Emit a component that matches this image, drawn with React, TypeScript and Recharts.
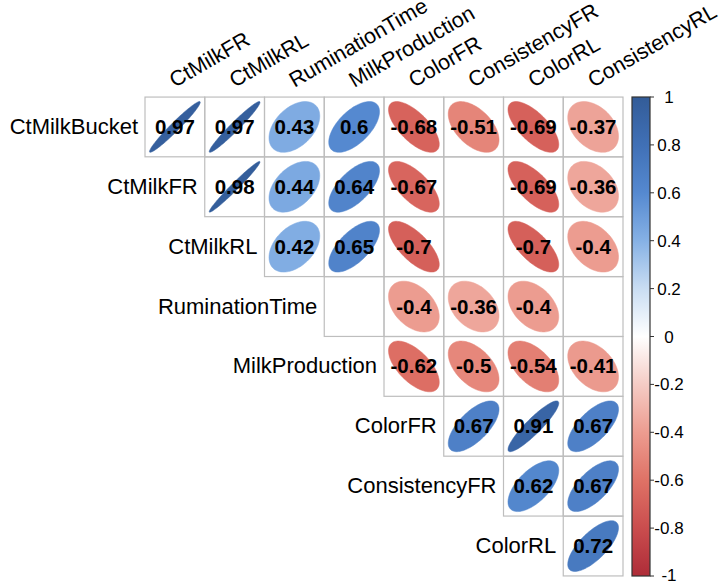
import React from 'react';
import { ScatterChart, Scatter, XAxis, YAxis, Customized } from 'recharts';

const rowLabels = ['CtMilkBucket', 'CtMilkFR', 'CtMilkRL', 'RuminationTime', 'MilkProduction', 'ColorFR', 'ConsistencyFR', 'ColorRL'];
const colLabels = ['CtMilkFR', 'CtMilkRL', 'RuminationTime', 'MilkProduction', 'ColorFR', 'ConsistencyFR', 'ColorRL', 'ConsistencyRL'];

// upper triangle, one array per row (null = not shown)
const rowCtMilkBucket = [0.97, 0.97, 0.43, 0.6, -0.68, -0.51, -0.69, -0.37];
const rowCtMilkFR = [0.98, 0.44, 0.64, -0.67, null, -0.69, -0.36];
const rowCtMilkRL = [0.42, 0.65, -0.7, null, -0.7, -0.4];
const rowRuminationTime = [null, -0.4, -0.36, -0.4, null];
const rowMilkProduction = [-0.62, -0.5, -0.54, -0.41];
const rowColorFR = [0.67, 0.91, 0.67];
const rowConsistencyFR = [0.62, 0.67];
const rowColorRL = [0.72];

const rows = [rowCtMilkBucket, rowCtMilkFR, rowCtMilkRL, rowRuminationTime, rowMilkProduction, rowColorFR, rowConsistencyFR, rowColorRL];

const colorbarTicks = [1, 0.8, 0.6, 0.4, 0.2, 0, -0.2, -0.4, -0.6, -0.8, -1];

const PALETTE: [number, string][] = [
  [-1, '#AE2C38'], [-0.8, '#CA4D4E'], [-0.6, '#DF7266'], [-0.4, '#EC9C90'], [-0.2, '#F5CCC5'],
  [0, '#FFFFFF'], [0.2, '#C9DDF3'], [0.4, '#86B1E5'], [0.6, '#5589D0'], [0.8, '#4070B6'], [1, '#335C98'],
];

const W = 723;
const H = 584;
const MARGIN = { top: 97, right: 100, bottom: 8, left: 145 };
const N = 8;
const CELL = (W - MARGIN.left - MARGIN.right) / N;
const FONT = '"Liberation Sans", Arial, sans-serif';

const hex = (c: string) => [1, 3, 5].map((i) => parseInt(c.slice(i, i + 2), 16));
const colorFor = (v: number) => {
  for (let i = 0; i < PALETTE.length - 1; i++) {
    const [a, ca] = PALETTE[i];
    const [b, cb] = PALETTE[i + 1];
    if (v >= a && v <= b) {
      const t = (v - a) / (b - a);
      const A = hex(ca), B = hex(cb);
      const m = A.map((x, k) => Math.round(x + (B[k] - x) * t));
      return `rgb(${m[0]},${m[1]},${m[2]})`;
    }
  }
  return '#fff';
};

// corrplot ellipse outline
const ellipsePath = (r: number, cx: number, cy: number) => {
  const a = Math.acos(r) / 2;
  const pts: string[] = [];
  for (let i = 0; i < 99; i++) {
    const k = (2 * Math.PI * i) / 98;
    const x = (Math.cos(k + a) / 2) * 0.85 * CELL;
    const y = (Math.cos(k - a) / 2) * 0.85 * CELL;
    pts.push(`${(cx + x).toFixed(2)},${(cy - y).toFixed(2)}`);
  }
  return 'M' + pts.join('L') + 'Z';
};

const cells: { x: number; y: number; r: number | null }[] = [];
rows.forEach((vals, i) => {
  vals.forEach((r, k) => {
    cells.push({ x: i + k + 0.5, y: i + 0.5, r });
  });
});
const filled = cells.filter((c) => c.r !== null);
const rowLabelPts = rowLabels.map((name, i) => ({ x: i, y: i + 0.5, name }));
const colLabelPts = colLabels.map((name, j) => ({ x: j + 0.5, y: 0, name }));

const GridCell = (p: any) => (
  <rect x={p.cx - CELL / 2} y={p.cy - CELL / 2} width={CELL} height={CELL} fill="none" stroke="#BEBEBE" strokeWidth={1.2} />
);

const EllipseShape = (p: any) => {
  const r = p.payload.r;
  return <path d={ellipsePath(r, p.cx, p.cy)} fill={colorFor(r)} stroke={colorFor(r)} strokeWidth={0.5} />;
};

const NumberShape = (p: any) => (
  <text x={p.cx} y={p.cy + 7} textAnchor="middle" fontFamily={FONT} fontWeight="bold" fontSize={20.5} fill="#000">
    {String(p.payload.r)}
  </text>
);

const RowLabel = (p: any) => (
  <text x={p.cx - 7} y={p.cy + 7} textAnchor="end" fontFamily={FONT} fontSize={22} fill="#000">
    {p.payload.name}
  </text>
);

const ColLabel = (p: any) => (
  <text x={p.cx} y={p.cy - 9} textAnchor="start" fontFamily={FONT} fontSize={21.5} fill="#000" transform={`rotate(-30 ${p.cx} ${p.cy - 9})`}>
    {p.payload.name}
  </text>
);

const Colorbar = () => {
  const x = 632;
  const w = 18;
  const top = MARGIN.top;
  const bottom = H - MARGIN.bottom;
  const yOf = (v: number) => top + ((1 - v) / 2) * (bottom - top);
  return (
    <g>
      <defs>
        <linearGradient id="cbGrad" x1="0" y1="1" x2="0" y2="0">
          {PALETTE.map(([v, c]) => (
            <stop key={v} offset={`${((v + 1) / 2) * 100}%`} stopColor={c} />
          ))}
        </linearGradient>
      </defs>
      <rect x={x} y={top} width={w} height={bottom - top} fill="url(#cbGrad)" stroke="#333" strokeWidth={1.2} />
      {colorbarTicks.map((t) => (
        <g key={t}>
          <line x1={x + w} x2={x + w + 4} y1={yOf(t)} y2={yOf(t)} stroke="#333" strokeWidth={1} />
          <text x={669} y={Math.min(yOf(t) + 6, H - 3)} textAnchor="middle" fontFamily={FONT} fontSize={17} fill="#000">
            {String(t)}
          </text>
        </g>
      ))}
    </g>
  );
};

export default function App() {
  return (
    <div style={{ position: 'absolute', left: 0, top: 0, background: '#fff' }}>
      <ScatterChart width={W} height={H} margin={MARGIN}>
        <XAxis type="number" dataKey="x" domain={[0, N]} hide />
        <YAxis type="number" dataKey="y" domain={[0, N]} reversed hide />
        <Scatter data={cells} shape={GridCell} isAnimationActive={false} />
        <Scatter data={filled} shape={EllipseShape} isAnimationActive={false} />
        <Scatter data={filled} shape={NumberShape} isAnimationActive={false} />
        <Scatter data={rowLabelPts} shape={RowLabel} isAnimationActive={false} />
        <Scatter data={colLabelPts} shape={ColLabel} isAnimationActive={false} />
        <Customized component={Colorbar} />
      </ScatterChart>
    </div>
  );
}
